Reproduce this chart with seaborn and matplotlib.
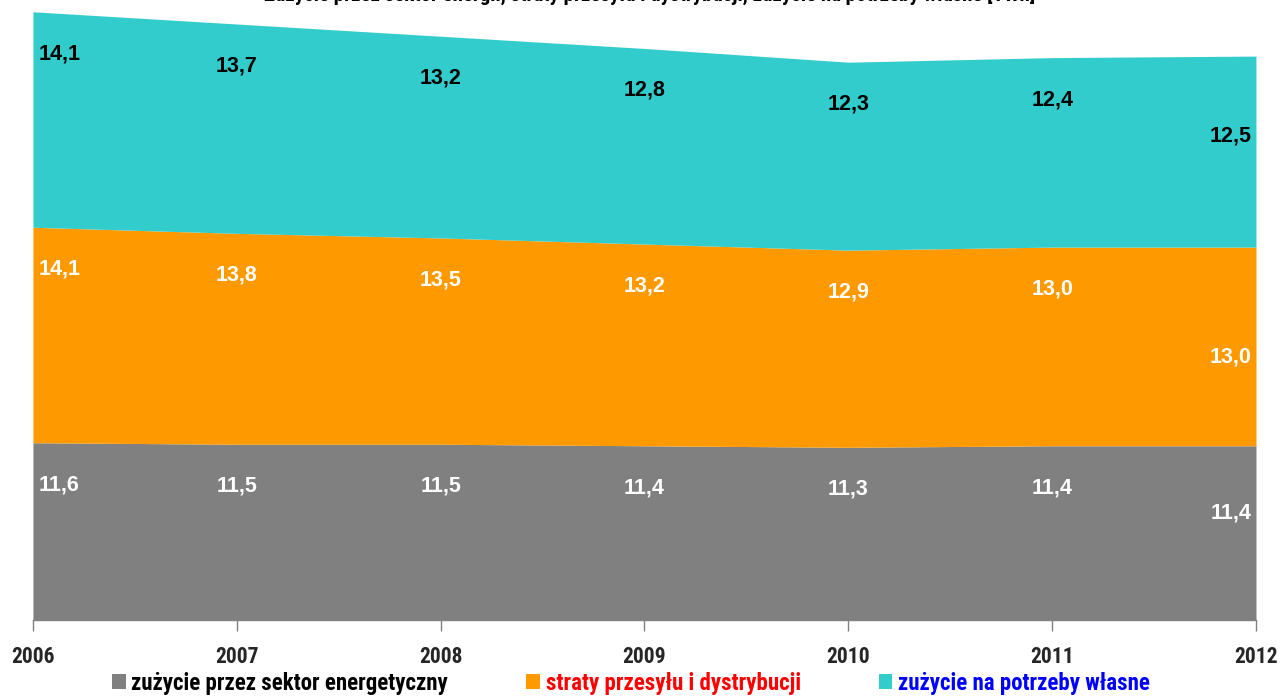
import numpy as np
import matplotlib
matplotlib.use("Agg")
import matplotlib.pyplot as plt
from matplotlib.patches import Patch
import seaborn as sns

years = [2006, 2007, 2008, 2009, 2010, 2011, 2012]
sektor = [11.6, 11.5, 11.5, 11.4, 11.3, 11.4, 11.4]
straty = [14.1, 13.8, 13.5, 13.2, 12.9, 13.0, 13.0]
potrzeby = [14.1, 13.7, 13.2, 12.8, 12.3, 12.4, 12.5]
series_names = ["zużycie przez sektor energetyczny",
                "straty przesyłu i dystrybucji",
                "zużycie na potrzeby własne"]
title = ("Zużycie przez sektor energii, straty przesyłu i dystrybucji, "
         "zużycie na potrzeby własne [TWh]")

colors = ["#808080", "#FF9900", "#33CCCC"]
text_colors = ["black", "red", "blue"]
label_colors = ["white", "white", "black"]

sns.set_theme(style="white")
narrow = ["Liberation Sans Narrow", "Roboto Condensed", "Archivo Narrow",
          "Fira Sans Condensed", "DejaVu Sans"]
plt.rcParams["font.family"] = narrow
bold_font = ["Liberation Sans", "DejaVu Sans"]

fig = plt.figure(figsize=(12.82, 6.97), dpi=100)
ax = fig.add_axes([0.0257, 0.1105, 0.954, 0.877])

data = np.array([sektor, straty, potrzeby])
ax.stackplot(years, data, colors=colors, linewidth=0)

ax.set_xlim(2006, 2012)
ax.set_ylim(0, 40)
ax.set_yticks([])
ax.set_xticks(years)
ax.set_xticklabels([str(y) for y in years], fontsize=15.5, fontweight="bold")
ax.tick_params(axis="x", direction="out", length=8, width=1, color="#808080",
               pad=11, bottom=True)
for side in ["left", "right", "top"]:
    ax.spines[side].set_visible(False)
ax.spines["bottom"].set_color("#808080")
ax.spines["bottom"].set_linewidth(1)

# value labels
tops = np.cumsum(data, axis=0)
for i in range(3):
    for j, yr in enumerate(years):
        v = data[i][j]
        if j == 0:
            x, ha = yr + 0.03, "left"
        elif j == len(years) - 1:
            x, ha = yr - 0.02, "right"
        else:
            x, ha = yr, "center"
        if j == len(years) - 1:
            off = [4.4, 7.2, 5.2][i]
        else:
            off = 2.75
        ax.text(x, tops[i][j] - off, f"{v:.1f}".replace(".", ","), ha=ha, va="center",
                fontsize=15.5, fontweight="bold", color=label_colors[i], family=bold_font)

fig.text(0.507, 0.9986, title, ha="center", va="baseline", fontsize=15,
         fontweight="bold", color="black")

handles = [Patch(facecolor=c, edgecolor="none") for c in colors]
leg = fig.legend(handles, series_names, loc="lower center",
                 bbox_to_anchor=(0.4922, 0.0), ncol=3, frameon=False,
                 borderaxespad=0.0, borderpad=0.1,
                 handlelength=0.6, handleheight=0.6, handletextpad=0.25,
                 columnspacing=3.4, prop={"size": 16.5, "weight": "bold"})
for t, c in zip(leg.get_texts(), text_colors):
    t.set_color(c)

fig.savefig("out.png", dpi=100)
